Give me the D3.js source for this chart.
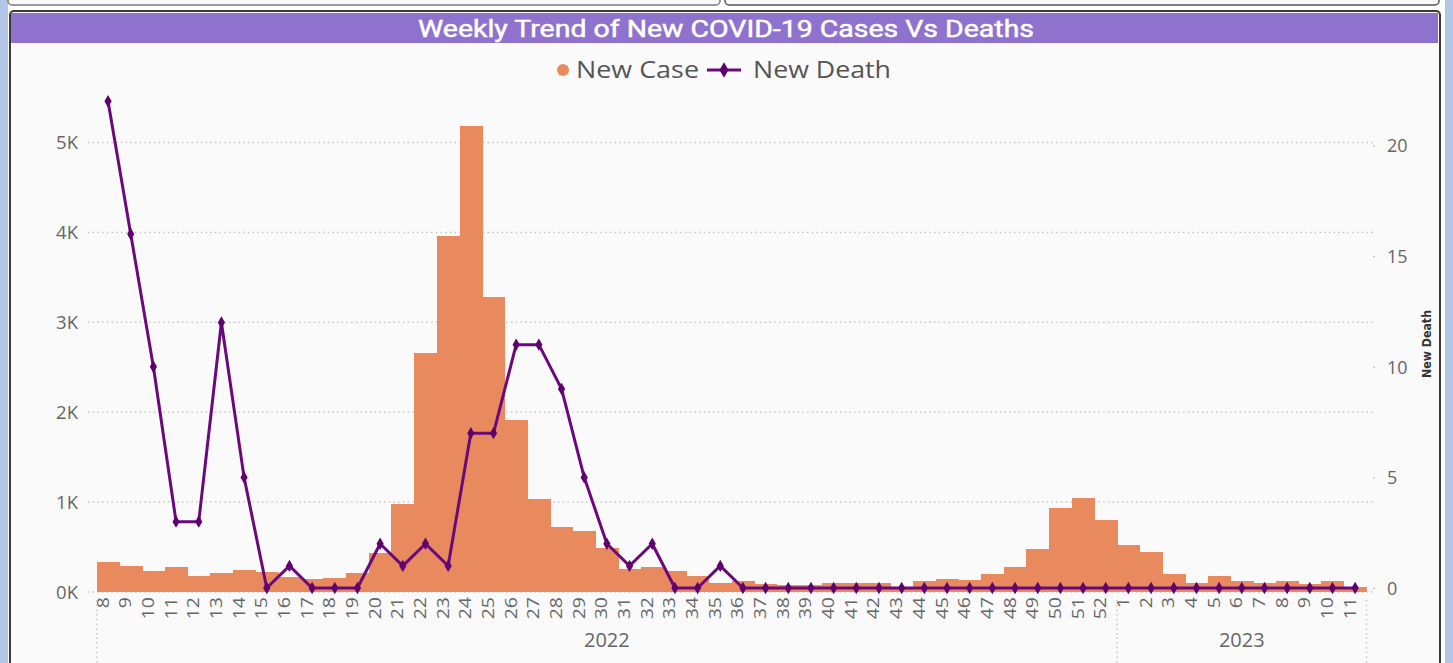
<!DOCTYPE html>
<html><head><meta charset="utf-8">
<script src="https://cdn.jsdelivr.net/npm/d3@7"></script>
<style>
html,body{margin:0;padding:0;background:#fff;}
svg{display:block;}
</style></head>
<body>
<svg id="c" width="1453" height="663"></svg>
<script>
// ---- data ----
const years = ["2022", "2023"];
const weeks2022 = [8,9,10,11,12,13,14,15,16,17,18,19,20,21,22,23,24,25,26,27,28,29,30,31,32,33,34,35,36,37,38,39,40,41,42,43,44,45,46,47,48,49,50,51,52];
const weeks2023 = [1,2,3,4,5,6,7,8,9,10,11];
const newCases2022 = [337,293,230,275,178,211,245,225,163,140,160,211,437,982,2662,3963,5184,3285,1913,1031,727,675,486,260,275,230,178,100,119,85,79,79,104,97,97,60,119,148,130,197,275,482,931,1046,804];
const newCases2023 = [519,448,197,97,178,119,97,119,85,119,52];
const newDeaths2022 = [22,16,10,3,3,12,5,0,1,0,0,0,2,1,2,1,7,7,11,11,9,5,2,1,2,0,0,1,0,0,0,0,0,0,0,0,0,0,0,0,0,0,0,0,0];
const newDeaths2023 = [0,0,0,0,0,0,0,0,0,0,0];
const leftTicks = [0,1000,2000,3000,4000,5000];
const rightTicks = [0,5,10,15,20];
const titleText = "Weekly Trend of New COVID-19 Cases Vs Deaths";

// build rows
const rows = [];
weeks2022.forEach((w,i)=>rows.push({year:"2022",week:w,key:"2022-"+w,cases:newCases2022[i],deaths:newDeaths2022[i]}));
weeks2023.forEach((w,i)=>rows.push({year:"2023",week:w,key:"2023-"+w,cases:newCases2023[i],deaths:newDeaths2023[i]}));

const svg = d3.select("#c");
const AX = "'Open Sans','Noto Sans',sans-serif";

// ---- page frame ----
svg.append("rect").attr("x",0).attr("y",0).attr("width",1453).attr("height",663).attr("fill","#ffffff");
svg.append("rect").attr("x",0).attr("y",0).attr("width",8).attr("height",663).attr("fill","#b4c6e7");
svg.append("rect").attr("x",1445).attr("y",0).attr("width",8).attr("height",663).attr("fill","#b4c6e7");
// top neighbour visuals
svg.append("rect").attr("x",8).attr("y",-12).attr("width",712).attr("height",17).attr("rx",4)
  .attr("fill","#fafafa").attr("stroke","#7a7a7a").attr("stroke-width",1.5);
svg.append("rect").attr("x",725).attr("y",-12).attr("width",714).attr("height",17).attr("rx",4)
  .attr("fill","#fafafa").attr("stroke","#555").attr("stroke-width",1.5);
// main visual
svg.append("rect").attr("x",10).attr("y",11).attr("width",1430).attr("height",670).attr("rx",4)
  .attr("fill","#fafafa").attr("stroke","#3a3a3a").attr("stroke-width",2);
svg.append("rect").attr("x",11).attr("y",13).attr("width",1427).attr("height",30).attr("fill","#8f72cd");
svg.append("text").attr("x",726).attr("y",37).attr("text-anchor","middle")
  .attr("font-family","Roboto,'Noto Sans',sans-serif")
  .attr("font-size",23).attr("font-weight",400).attr("fill","#ffffff")
  .attr("stroke","#ffffff").attr("stroke-width",0.45)
  .attr("textLength",616).attr("lengthAdjust","spacingAndGlyphs")
  .text(titleText);

// ---- scales ----
const x = d3.scaleBand().domain(rows.map(d=>d.key)).range([96.7,1366.5]).padding(0);
const yL = d3.scaleLinear().domain([0,5000]).range([592,142.5]);
const yR = d3.scaleLinear().domain([0,20]).range([588,145.5]);
const bw = x.bandwidth();

// gridlines
const grid = svg.append("g");
grid.selectAll("line").data(leftTicks).join("line")
  .attr("x1",88).attr("x2",1373)
  .attr("y1",d=>yL(d)).attr("y2",d=>yL(d))
  .attr("stroke","#c6c6c6").attr("stroke-width",1.5).attr("stroke-dasharray","1.5,3.2");

// left axis labels
const gL = svg.append("g").attr("transform","translate(78,0)");
gL.call(d3.axisLeft(yL).tickValues(leftTicks).tickSize(0).tickPadding(0).tickFormat(d=>(d/1000)+"K"));
gL.select(".domain").remove();
gL.selectAll("text").attr("font-family",AX).attr("font-size",18.5).attr("fill","#666").attr("dy","0.35em");

// right axis
const gR = svg.append("g").attr("transform","translate(1374,0)");
gR.call(d3.axisRight(yR).tickValues(rightTicks).tickSize(2).tickPadding(11));
gR.select(".domain").remove();
gR.selectAll("line").attr("stroke","#bbb").attr("transform","translate(-1,0)");
gR.selectAll("text").attr("font-family",AX).attr("font-size",18).attr("fill","#666").attr("dy","0.35em");

// right axis title
svg.append("text").attr("transform","translate(1431,344) rotate(-90)")
  .attr("text-anchor","middle").attr("font-family","'DejaVu Sans','Noto Sans',sans-serif")
  .attr("font-weight","bold").attr("font-size",12).attr("fill","#333")
  .attr("textLength",68).attr("lengthAdjust","spacingAndGlyphs").text("New Death");

// ---- bars ----
svg.append("g").attr("shape-rendering","crispEdges").selectAll("rect").data(rows).join("rect")
  .attr("x",d=>x(d.key)).attr("width",bw+0.5)
  .attr("y",d=>yL(d.cases)).attr("height",d=>yL(0)-yL(d.cases))
  .attr("fill","#e98a5e");

// ---- line ----
const line = d3.line().x(d=>x(d.key)+bw/2).y(d=>yR(d.deaths));
svg.append("path").datum(rows).attr("d",line)
  .attr("fill","none").attr("stroke","#6a0a7a").attr("stroke-width",3).attr("stroke-linejoin","round");
const diamond = d3.symbol().type(d3.symbolDiamond).size(45);
svg.append("g").selectAll("path").data(rows).join("path")
  .attr("transform",d=>`translate(${x(d.key)+bw/2},${yR(d.deaths)})`)
  .attr("d",diamond).attr("fill","#5f006e");

// ---- x axis week labels ----
const gx = svg.append("g");
gx.selectAll("text").data(rows).join("text")
  .attr("transform",d=>`translate(${x(d.key)+bw/2+0.5},597) rotate(-90) scale(1,0.8)`)
  .attr("text-anchor","end").attr("font-family",AX).attr("font-size",19.5).attr("fill","#666")
  .text(d=>d.week);

// year group separators & labels
const groups = years.map(yv=>{
  const rs = rows.filter(r=>r.year===yv);
  return {year:yv, x0:x(rs[0].key), x1:x(rs[rs.length-1].key)+bw};
});
const seps = [groups[0].x0, groups[0].x1, groups[1].x1];
svg.append("g").selectAll("line").data(seps).join("line")
  .attr("x1",d=>d).attr("x2",d=>d).attr("y1",600).attr("y2",663)
  .attr("stroke","#c6c6c6").attr("stroke-width",1.5).attr("stroke-dasharray","1.5,3.2");
svg.append("g").selectAll("text").data(groups).join("text")
  .attr("x",d=>(d.x0+d.x1)/2).attr("y",647).attr("text-anchor","middle")
  .attr("font-family",AX).attr("font-size",20).attr("fill","#666").text(d=>d.year);

// ---- legend ----
const lg = svg.append("g");
lg.append("circle").attr("cx",563).attr("cy",70).attr("r",6).attr("fill","#e98a5e");
lg.append("text").attr("x",576).attr("y",78).attr("font-family",AX).attr("font-size",23).attr("fill","#555")
  .attr("textLength",123).attr("lengthAdjust","spacingAndGlyphs").text("New Case");
lg.append("line").attr("x1",707).attr("x2",741).attr("y1",70).attr("y2",70).attr("stroke","#6a0a7a").attr("stroke-width",3);
lg.append("path").attr("transform","translate(724,70)").attr("d",d3.symbol().type(d3.symbolDiamond).size(70)).attr("fill","#5f006e");
lg.append("text").attr("x",753).attr("y",78).attr("font-family",AX).attr("font-size",23).attr("fill","#555")
  .attr("textLength",138).attr("lengthAdjust","spacingAndGlyphs").text("New Death");
</script>
</body></html>
